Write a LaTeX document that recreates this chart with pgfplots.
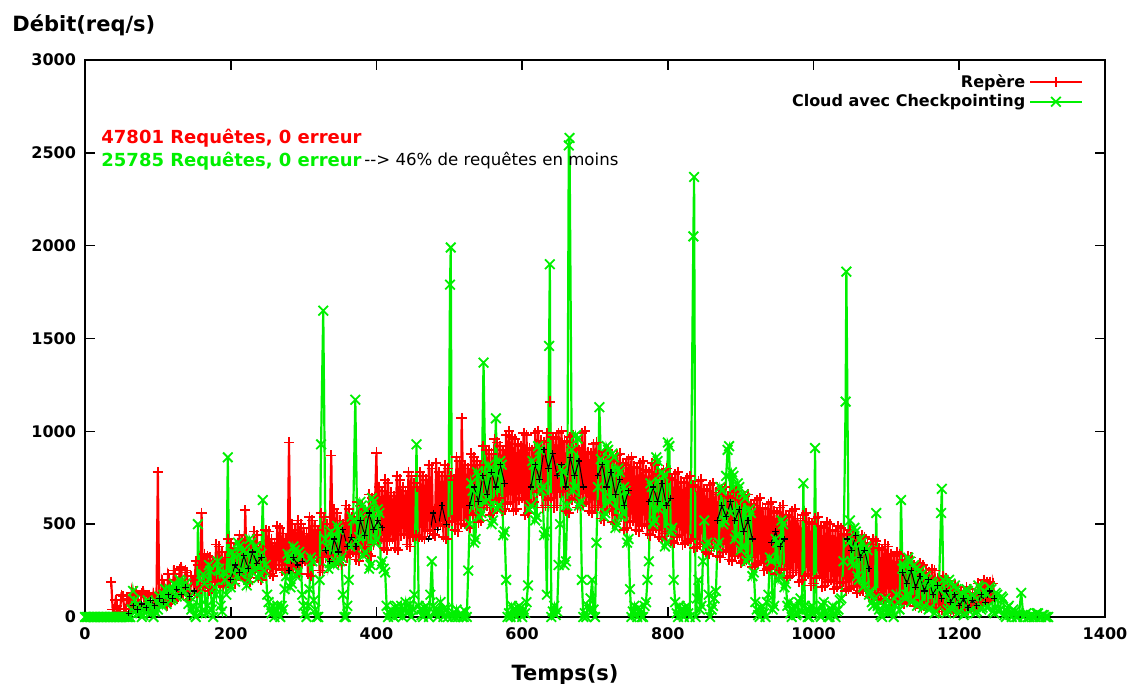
\documentclass[border=0pt]{standalone}
\usepackage{fontspec}
\setmainfont{DejaVu Sans}
\usepackage{pgfplots}
\pgfplotsset{compat=1.18}
\usetikzlibrary{calc}
\definecolor{gpred}{RGB}{255,0,0}
\definecolor{gpgreen}{RGB}{0,240,0}
\begin{document}
\begin{tikzpicture}
\begin{axis}[
  scale only axis, width=510pt, height=278.5pt,
  xmin=0, xmax=1400, ymin=0, ymax=3000,
  xtick={0,200,...,1400}, ytick={0,500,...,3000},
  tick align=inside, major tick length=5pt,
  tick style={black, line width=0.8pt},
  axis line style={line width=0.8pt},
  /pgf/number format/assume math mode=true,
  /pgf/number format/1000 sep={},
  scaled ticks=false,
  unbounded coords=jump,
  ticklabel style={font=\fontsize{8}{9}\selectfont\bfseries},
  xticklabel style={yshift=-2pt},
  yticklabel style={xshift=-1pt},
  legend plot pos=right,
  legend cell align=right,
  legend style={draw=none, fill=none, at={(1,1)}, anchor=north east, xshift=-8pt, yshift=-3pt,
    font=\fontsize{8}{9}\selectfont\bfseries, row sep=-2pt},
  legend image code/.code={\draw[mark repeat=2,mark phase=2] plot coordinates {(0cm,0cm) (0.45cm,0cm) (0.9cm,0cm)};},
]
\addplot[gpred, line width=1.1pt, mark=+, mark size=2.6pt, mark options={line width=0.9pt}] coordinates {
(36,190)(38,40)(40,20)(42,90)(44,60)(46,25)(48,30)(50,120)(52,110)(54,45)
(56,40)(58,100)(60,90)(62,30)(64,130)(66,70)(68,50)(70,140)(72,120)(74,40)
(76,70)(78,130)(80,140)(82,60)(84,50)(86,110)(88,120)(90,35)(92,40)(94,130)
(96,100)(98,60)(100,780)(102,70)(104,80)(106,200)(108,170)(110,70)(112,60)(114,230)
(116,200)(118,80)(120,90)(122,250)(124,230)(126,100)(128,110)(130,260)(132,270)(134,120)
(136,140)(138,250)(140,240)(142,90)(144,100)(146,220)(148,200)
(150,140)(152,300)(154,130)(156,280)(158,160)(160,560)(162,170)(164,340)(166,180)(168,330)
(170,140)(172,320)(174,150)(176,300)(178,190)(180,390)(182,200)(184,380)(186,170)(188,350)
(190,160)(192,320)(194,200)(196,420)(198,210)(200,400)(202,190)(204,370)(206,180)(208,350)
(210,220)(212,440)(214,230)(216,420)(218,200)(220,575)(222,210)(224,400)(226,190)(228,380)
(230,240)(232,460)(234,250)(236,440)(238,210)(240,380)(242,200)(244,360)(246,240)(248,470)
(250,260)(252,460)(254,230)(256,420)(258,220)(260,400)(262,260)(264,490)(266,280)(268,480)
(270,250)(272,450)(274,240)(276,420)(278,260)(280,940)(282,280)(284,500)(286,270)(288,470)
(290,240)(292,520)(294,230)(296,500)(298,290)(300,480)(302,300)(304,450)(306,230)(308,540)
(310,220)(312,520)(314,300)(316,490)(318,320)(320,470)(322,250)(324,560)(326,240)(328,540)
(330,320)(332,500)(334,330)(336,480)(338,870)(340,310)(342,580)(344,300)(346,560)(348,290)
(350,520)(352,280)(354,500)(356,330)(358,600)(360,320)(362,580)(364,340)(366,540)(368,350)
(370,520)(372,310)(374,620)(376,300)(378,600)(380,370)(382,580)(384,380)(386,560)(388,340)
(390,660)(392,330)(394,640)(396,390)(398,600)(400,885)(402,410)(404,700)(406,420)(408,680)
(410,370)(412,740)(414,360)(416,720)(418,410)(420,670)(422,420)(424,650)(426,370)(428,760)
(430,360)(432,740)(434,440)(436,700)(438,450)(440,680)(442,390)(444,780)(446,380)(448,760)
(450,430)(452,720)(454,440)(456,700)(458,430)(460,780)(462,430)(464,760)(466,420)(468,740)
(470,460)(472,820)(474,470)(476,800)(478,450)(480,440)(482,830)(484,490)(486,780)(488,500)
(490,760)(492,430)(494,820)(496,420)(498,800)(500,510)(502,760)(504,520)(506,740)(508,470)
(510,860)(512,460)(514,840)(516,500)(517,1070)(520,520)(522,820)(524,490)(526,800)(528,480)
(530,880)(532,550)(534,860)(536,560)(538,840)(540,510)(542,820)(544,520)(546,920)(548,590)
(550,900)(552,600)(554,900)(556,550)(558,880)(560,560)(562,960)(564,630)(566,940)(568,640)
(570,920)(572,570)(574,900)(576,580)(578,980)(580,610)(582,1000)(584,620)(586,970)(588,570)
(590,960)(592,580)(594,930)(596,630)(598,920)(600,640)(602,990)(604,550)(606,980)(608,560)
(610,910)(612,610)(614,900)(616,620)(618,990)(620,670)(622,1000)(624,680)(626,950)(628,590)
(630,940)(632,600)(634,990)(636,630)(638,1160)(640,640)(642,970)(644,590)(646,960)(648,600)
(650,990)(652,670)(654,1000)(656,680)(658,950)(660,570)(662,940)(664,560)(666,970)(668,630)
(670,980)(672,640)(674,910)(676,590)(678,900)(680,600)(682,990)(684,610)(686,1000)(688,620)
(690,890)(692,570)(694,880)(696,560)(698,930)(700,590)(702,940)(704,600)(706,870)(708,530)
(710,860)(712,520)(714,890)(716,570)(718,900)(720,580)(722,850)(724,510)(726,840)(728,500)
(730,870)(732,550)(734,880)(736,540)(738,830)(740,470)(742,820)(744,480)(746,850)(748,510)
(750,860)(752,520)(754,810)(756,470)(758,800)(760,460)(762,830)(764,490)(766,840)(768,500)
(770,790)(772,450)(774,780)(776,440)(778,830)(780,470)(782,820)(784,480)(786,770)(788,430)
(790,760)(792,420)(794,790)(796,450)(798,800)(800,460)(802,750)(804,410)(806,740)(808,400)
(810,770)(812,430)(814,780)(816,440)(818,730)(820,390)(822,720)(824,400)(826,750)(828,410)
(830,760)(832,420)(834,710)(836,370)(838,700)(840,380)(842,730)(844,390)(846,740)(848,400)
(850,690)(852,350)(854,680)(856,340)(858,710)(860,370)(862,720)(864,380)(866,670)(868,330)
(870,660)(872,320)(874,690)(876,350)(878,700)(880,360)(882,650)(884,310)(886,640)(888,300)
(890,670)(892,330)(894,680)(896,340)(898,630)(900,290)(902,620)(904,300)(906,650)(908,310)
(910,660)(912,320)(914,610)(916,270)(918,600)(920,280)(922,630)(924,290)(926,640)(928,300)
(930,590)(932,250)(934,580)(936,260)(938,610)(940,270)(942,620)(944,280)(946,570)(948,230)
(950,560)(952,240)(954,590)(956,250)(958,600)(960,260)(962,550)(964,210)(966,540)(968,220)
(970,570)(972,240)(974,580)(976,250)(978,530)(980,190)(982,520)(984,200)(986,550)(988,220)
(990,560)(992,230)(994,510)(996,170)(998,500)(1000,180)(1002,530)(1004,210)(1006,540)(1008,220)
(1010,490)(1012,160)(1014,480)(1016,170)(1018,510)(1020,190)(1022,500)(1024,200)(1026,470)(1028,150)
(1030,460)(1032,160)(1034,490)(1036,180)(1038,480)(1040,190)(1042,450)(1044,140)(1046,440)(1048,150)
(1050,470)(1052,160)(1054,460)(1056,170)(1058,430)(1060,130)(1062,420)(1064,140)(1066,440)(1068,140)
(1070,430)(1072,150)(1074,400)(1076,110)(1078,390)(1080,120)(1082,420)(1084,120)(1086,410)(1088,130)
(1090,370)(1092,90)(1094,360)(1096,100)(1098,390)(1100,110)(1102,380)(1104,120)(1106,340)(1108,80)
(1110,330)(1112,90)(1114,350)(1116,90)(1118,340)(1120,100)(1122,310)(1124,70)(1126,300)(1128,80)
(1130,330)(1132,80)(1134,320)(1136,90)(1138,280)(1140,60)(1142,270)(1144,70)(1146,290)(1148,50)
(1150,280)(1152,60)(1154,250)(1156,60)(1158,240)(1160,70)(1162,260)(1164,40)(1166,250)(1168,50)
(1170,210)(1172,30)(1174,200)(1176,40)(1178,220)(1180,40)(1182,210)(1184,50)(1186,180)(1188,20)
(1190,170)(1192,30)(1194,170)(1196,30)(1198,160)(1200,40)(1202,140)(1204,20)(1206,130)(1208,30)
(1210,160)(1212,40)(1214,150)(1216,50)(1218,130)(1220,50)(1222,120)(1224,60)(1226,180)(1228,60)
(1230,170)(1232,70)(1234,200)(1236,80)(1238,190)(1240,90)(1242,190)(1244,100)(1246,180)(1248,120)
};
\addlegendentry{Repère}
\addplot[gpgreen, line width=1.1pt, mark=x, mark size=3.4pt, mark options={line width=0.9pt}] coordinates {
(0,0)(2,0)(4,0)(6,0)(8,0)(10,0)(12,0)(14,0)(16,0)(18,0)(20,0)(22,0)(24,0)(26,0)(28,0)(30,0)
(32,0)(34,0)(36,0)(38,0)(40,0)(42,0)(44,0)(46,0)(48,0)(50,0)(52,0)(54,0)(56,0)(58,0)(60,0)(62,0)
(64,40)(66,140)(68,90)(70,60)(72,20)(74,50)(76,20)(78,0)(80,10)(82,60)
(84,30)(86,90)(88,70)(90,20)(92,40)(94,0)(96,30)(98,80)(100,40)(102,110)
(104,80)(106,60)(108,120)(110,150)(112,70)(114,120)(116,150)(118,90)(120,100)(122,180)
(124,170)(126,110)(128,120)(130,200)(132,190)(134,130)(136,140)(138,180)(140,160)(142,70)
(144,110)(146,40)(148,60)(150,10)(152,0)(154,120)(155,500)(158,60)(160,20)(162,230)
(164,180)(166,20)(168,60)(170,280)(172,250)(174,40)(176,0)(178,160)(180,120)(182,300)
(184,260)(186,60)(188,30)(190,240)(192,200)(194,120)(196,860)(198,180)(200,160)(202,350)
(204,330)(206,190)(208,220)(210,400)(212,380)(214,230)(216,250)(218,360)(220,340)(222,170)
(224,200)(226,420)(228,400)(230,240)(232,260)(234,380)(236,360)(238,210)(240,230)(242,340)
(244,630)(246,250)(248,280)(250,120)(252,80)(254,40)(256,20)(258,60)(260,0)(262,30)
(264,60)(266,10)(268,0)(270,60)(272,40)(274,150)(276,220)(278,340)(280,320)(282,160)
(284,180)(286,380)(288,360)(290,220)(292,240)(294,350)(296,330)(298,120)(300,60)(302,20)
(304,0)(306,60)(308,150)(310,320)(312,300)(314,90)(316,40)(318,0)(320,0)(322,200)
(324,930)(327,1650)(330,420)(332,380)(334,260)(336,290)(338,460)(340,430)(342,280)(344,300)
(346,490)(348,470)(350,300)(352,320)(354,120)(356,0)(358,0)(360,60)(362,200)(364,380)
(366,540)(368,520)(371,1170)(374,400)(376,430)(378,620)(380,600)(382,330)(384,350)(386,580)
(388,560)(390,260)(392,280)(394,640)(396,620)(398,400)(400,420)(402,580)(404,560)(406,280)
(408,300)(410,260)(412,240)(414,60)(416,0)(418,20)(420,40)(422,10)(424,0)(426,50)
(428,60)(430,10)(432,20)(434,60)(436,0)(438,40)(440,80)(442,20)(444,30)(446,70)
(448,0)(450,40)(452,120)(455,930)(458,60)(460,40)(462,10)(464,0)(466,50)(468,60)
(470,20)(472,0)(474,120)(476,300)(478,60)(480,20)(482,40)(484,0)(486,30)(488,80)
(490,20)(492,0)(494,50)(496,40)(498,0)(501,1790)(502,1990)(504,0)(506,20)(508,0)
(510,40)(512,0)(514,10)(516,20)(518,0)(520,0)(522,30)(524,0)(526,250)(528,500)
(530,720)(532,680)(534,400)(536,420)(538,780)(540,760)(542,540)(544,560)(547,1370)(550,620)
(552,640)(554,820)(556,800)(558,500)(560,520)(562,780)(564,1070)(566,580)(568,600)(570,840)
(572,820)(574,440)(576,460)(578,200)(580,0)(582,20)(584,0)(586,60)(588,40)(590,10)
(592,0)(594,50)(596,60)(598,20)(600,0)(602,40)(604,20)(606,80)(608,170)(610,580)
(612,600)(614,840)(616,820)(618,520)(620,540)(622,920)(624,900)(626,680)(628,700)(630,440)
(632,460)(634,120)(637,1460)(638,1900)(640,0)(642,30)(644,60)(646,10)(648,30)(650,280)
(652,500)(654,800)(656,780)(658,280)(660,300)(662,600)(664,2540)(665,2580)(668,900)(670,680)
(672,700)(674,980)(676,960)(678,600)(680,620)(682,200)(684,0)(686,20)(688,0)(690,60)
(692,40)(694,100)(696,200)(698,40)(700,0)(702,400)(704,700)(706,1130)(708,850)(710,830)
(712,540)(714,560)(716,920)(718,900)(720,620)(722,640)(724,880)(726,860)(728,480)(730,500)
(732,800)(734,780)(736,540)(738,560)(740,700)(742,680)(744,400)(746,420)(748,150)(750,0)
(752,30)(754,60)(756,10)(758,0)(760,50)(762,40)(764,0)(766,0)(768,60)(770,80)
(772,200)(774,300)(776,720)(778,700)(780,500)(782,520)(784,860)(786,840)(788,580)(790,600)
(792,780)(794,760)(796,380)(798,400)(800,940)(802,920)(804,460)(806,480)(808,200)(810,80)
(812,20)(814,0)(816,60)(818,40)(820,10)(822,0)(824,50)(826,60)(828,20)(830,0)
(835,2050)(836,2370)(838,0)(840,100)(842,200)(844,40)(846,60)(848,300)(850,520)(852,380)
(854,400)(856,120)(858,0)(860,40)(862,60)(864,100)(866,140)(868,380)(870,400)(872,700)
(874,680)(876,500)(878,520)(880,760)(882,900)(884,920)(886,560)(888,780)(890,760)(892,420)
(894,440)(896,720)(898,700)(900,360)(902,380)(904,660)(906,640)(908,300)(910,320)(912,580)
(914,560)(916,220)(918,240)(920,80)(922,40)(924,10)(926,0)(928,50)(930,60)(932,20)
(934,0)(936,80)(938,120)(940,320)(942,300)(944,40)(946,60)(948,420)(950,400)(952,200)
(954,220)(956,520)(958,500)(960,160)(962,180)(964,60)(966,80)(968,20)(970,0)(972,40)
(974,60)(976,10)(978,20)(980,80)(982,100)(984,30)(986,720)(988,60)(990,40)(992,0)
(994,0)(996,50)(998,60)(1000,20)(1002,910)(1004,40)(1006,30)(1008,10)(1010,0)(1012,60)
(1014,80)(1016,30)(1018,20)(1020,0)(1022,0)(1024,40)(1026,60)(1028,10)(1030,0)(1032,30)
(1034,40)(1036,90)(1038,100)(1041,300)(1044,1160)(1045,1860)(1048,400)(1050,520)(1052,300)(1054,280)
(1056,480)(1058,460)(1060,220)(1062,200)(1064,420)(1066,400)(1068,160)(1070,170)(1072,380)(1074,360)
(1076,120)(1078,140)(1080,80)(1082,60)(1084,100)(1086,560)(1088,60)(1090,40)(1092,10)(1094,0)
(1096,60)(1098,100)(1100,50)(1102,20)(1104,40)(1106,80)(1108,30)(1110,0)(1112,60)(1114,120)
(1116,80)(1118,40)(1120,630)(1122,260)(1124,280)(1126,100)(1128,120)(1130,320)(1132,300)(1134,80)
(1136,90)(1138,280)(1140,260)(1142,60)(1144,70)(1146,250)(1148,230)(1150,50)(1152,60)(1154,220)
(1156,200)(1158,40)(1160,50)(1162,190)(1164,180)(1166,20)(1168,30)(1170,170)(1172,150)(1175,560)
(1176,690)(1178,200)(1180,120)(1182,20)(1184,40)(1186,200)(1188,180)(1190,40)(1192,60)(1194,170)
(1196,150)(1198,20)(1200,30)(1202,130)(1204,120)(1206,10)(1208,20)(1210,150)(1212,140)(1214,30)
(1216,40)(1218,120)(1220,110)(1222,20)(1224,30)(1226,170)(1228,160)(1230,40)(1232,50)(1234,140)
(1236,130)(1238,50)(1240,60)(1242,160)(1244,150)(1246,30)(1248,20)(1250,130)(1252,120)(1254,30)
(1256,40)(1258,110)(1260,100)(1262,10)(1264,0)(1266,50)(1268,60)(1270,10)(1272,0)(1274,40)
(1276,30)(1278,0)(1280,0)(1282,20)(1285,130)(1288,0)(1290,10)(1292,20)(1294,0)(1296,0)
(1298,10)(1300,10)(1302,0)(1304,0)(1306,20)(1308,20)(1310,0)(1312,0)(1314,10)(1316,10)
(1318,0)(1320,0)(1322,0)
};
\addlegendentry{Cloud avec Checkpointing}
\addplot[forget plot, black, line width=0.5pt, mark=+, mark size=1.6pt, mark options={line width=0.55pt}] coordinates {
(60,20)(66,60)(72,40)(78,70)(84,50)(90,90)(96,60)(102,100)(108,80)(114,120)(120,100)(126,150)(132,120)(138,160)(144,110)(150,140)(150,nan)
(200,200)(206,280)(212,240)(218,330)(224,260)(230,350)(236,290)(242,320)(242,nan)
(280,250)(286,320)(292,280)(298,300)(298,nan)
(330,360)(336,300)(342,420)(348,350)(354,470)(360,380)(366,430)(372,380)(378,520)(384,440)(390,560)(396,470)(402,520)(408,480)(408,nan)
(472,420)(478,560)(484,470)(490,600)(496,500)(496,nan)
(528,600)(534,700)(540,620)(546,760)(552,660)(558,780)(564,700)(570,820)(576,720)(576,nan)
(612,700)(618,820)(624,740)(630,900)(636,800)(642,880)(648,760)(654,820)(660,700)(666,860)(672,760)(678,840)(684,700)(684,nan)
(704,760)(710,820)(716,700)(722,780)(728,660)(734,740)(740,600)(746,680)(746,nan)
(774,620)(780,700)(786,620)(792,720)(798,600)(804,640)(804,nan)
(868,520)(874,600)(880,540)(886,620)(892,520)(898,580)(904,460)(910,520)(916,420)(916,nan)
(942,400)(948,460)(954,380)(960,420)(960,nan)
(1046,420)(1052,360)(1058,440)(1064,320)(1070,360)(1076,260)(1076,nan)
(1122,240)(1128,180)(1134,250)(1140,160)(1146,220)(1152,140)(1158,200)(1164,120)(1170,170)(1176,100)(1182,140)(1188,80)(1194,120)(1200,60)(1206,100)(1212,50)(1218,90)(1224,60)(1230,120)(1236,80)(1242,140)(1248,100)
};
\node[anchor=west, inner sep=0pt, text=gpred, font=\fontsize{9}{10}\selectfont\bfseries] at (axis cs:22,2580) {47801 Requêtes, 0 erreur};
\node[anchor=west, inner sep=0pt, text=gpgreen, font=\fontsize{9}{10}\selectfont\bfseries] (g) at (axis cs:22,2457) {25785 Requêtes, 0 erreur};
\node[anchor=west, inner sep=0pt, font=\fontsize{8.3}{9}\selectfont] at ([xshift=1pt]g.east) {\mbox{-}\mbox{-}> 46\% de requêtes en moins};
\end{axis}
\node[anchor=west, font=\fontsize{10.5}{12}\selectfont\bfseries, inner sep=0pt] at ($(current axis.north west)+(-36.5pt,17.5pt)$) {Débit(req/s)};
\node[font=\fontsize{10.5}{12}\selectfont\bfseries, inner sep=0pt] at ($(current axis.south)+(-15pt,-29pt)$) {Temps(s)};
\pgfresetboundingbox
\path ($(current axis.south west)+(-42.5pt,-33.5pt)$) rectangle ($(current axis.north east)+(12pt,30pt)$);
\end{tikzpicture}
\end{document}
